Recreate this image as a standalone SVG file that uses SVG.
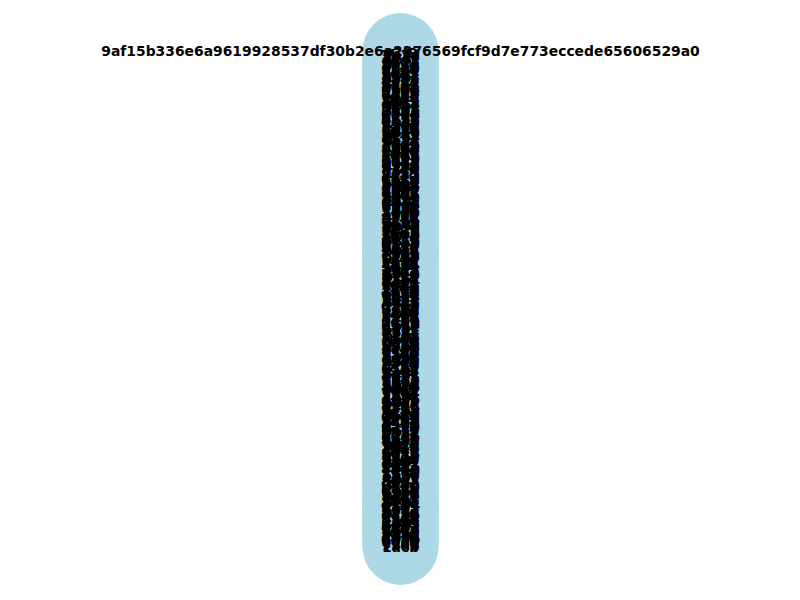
<svg xmlns="http://www.w3.org/2000/svg" width="800" height="600" viewBox="0 0 800 600">
<style>
.edge{stroke:#000000;stroke-width:1;fill:none}
.n{fill:#add8e6;stroke:none;cx:400.5px;r:38px}
#labels text{font-family:"DejaVu Sans","Liberation Sans",sans-serif;font-weight:bold;font-size:13.9px;fill:#000000;text-anchor:middle;dominant-baseline:central}
</style>
<rect x="0" y="0" width="800" height="600" fill="#ffffff"/>
<g id="connectors">
<path class="edge" d="M400.5,51 L400.5,547"/>
</g>
<g id="nodes">
<g id="n0"><circle class="n" cx="400.5" r="38" cy="51"/></g>
<g id="n1"><circle class="n" cx="400.5" r="38" cy="53"/></g>
<g id="n2"><circle class="n" cx="400.5" r="38" cy="55"/></g>
<g id="n3"><circle class="n" cx="400.5" r="38" cy="57"/></g>
<g id="n4"><circle class="n" cx="400.5" r="38" cy="59"/></g>
<g id="n5"><circle class="n" cx="400.5" r="38" cy="61"/></g>
<g id="n6"><circle class="n" cx="400.5" r="38" cy="63"/></g>
<g id="n7"><circle class="n" cx="400.5" r="38" cy="65"/></g>
<g id="n8"><circle class="n" cx="400.5" r="38" cy="67"/></g>
<g id="n9"><circle class="n" cx="400.5" r="38" cy="69"/></g>
<g id="n10"><circle class="n" cx="400.5" r="38" cy="71"/></g>
<g id="n11"><circle class="n" cx="400.5" r="38" cy="73"/></g>
<g id="n12"><circle class="n" cx="400.5" r="38" cy="75"/></g>
<g id="n13"><circle class="n" cx="400.5" r="38" cy="77"/></g>
<g id="n14"><circle class="n" cx="400.5" r="38" cy="79"/></g>
<g id="n15"><circle class="n" cx="400.5" r="38" cy="81"/></g>
<g id="n16"><circle class="n" cx="400.5" r="38" cy="83"/></g>
<g id="n17"><circle class="n" cx="400.5" r="38" cy="85"/></g>
<g id="n18"><circle class="n" cx="400.5" r="38" cy="87"/></g>
<g id="n19"><circle class="n" cx="400.5" r="38" cy="89"/></g>
<g id="n20"><circle class="n" cx="400.5" r="38" cy="91"/></g>
<g id="n21"><circle class="n" cx="400.5" r="38" cy="93"/></g>
<g id="n22"><circle class="n" cx="400.5" r="38" cy="95"/></g>
<g id="n23"><circle class="n" cx="400.5" r="38" cy="97"/></g>
<g id="n24"><circle class="n" cx="400.5" r="38" cy="99"/></g>
<g id="n25"><circle class="n" cx="400.5" r="38" cy="101"/></g>
<g id="n26"><circle class="n" cx="400.5" r="38" cy="103"/></g>
<g id="n27"><circle class="n" cx="400.5" r="38" cy="105"/></g>
<g id="n28"><circle class="n" cx="400.5" r="38" cy="107"/></g>
<g id="n29"><circle class="n" cx="400.5" r="38" cy="109"/></g>
<g id="n30"><circle class="n" cx="400.5" r="38" cy="111"/></g>
<g id="n31"><circle class="n" cx="400.5" r="38" cy="113"/></g>
<g id="n32"><circle class="n" cx="400.5" r="38" cy="115"/></g>
<g id="n33"><circle class="n" cx="400.5" r="38" cy="117"/></g>
<g id="n34"><circle class="n" cx="400.5" r="38" cy="119"/></g>
<g id="n35"><circle class="n" cx="400.5" r="38" cy="121"/></g>
<g id="n36"><circle class="n" cx="400.5" r="38" cy="123"/></g>
<g id="n37"><circle class="n" cx="400.5" r="38" cy="125"/></g>
<g id="n38"><circle class="n" cx="400.5" r="38" cy="127"/></g>
<g id="n39"><circle class="n" cx="400.5" r="38" cy="129"/></g>
<g id="n40"><circle class="n" cx="400.5" r="38" cy="131"/></g>
<g id="n41"><circle class="n" cx="400.5" r="38" cy="133"/></g>
<g id="n42"><circle class="n" cx="400.5" r="38" cy="135"/></g>
<g id="n43"><circle class="n" cx="400.5" r="38" cy="137"/></g>
<g id="n44"><circle class="n" cx="400.5" r="38" cy="139"/></g>
<g id="n45"><circle class="n" cx="400.5" r="38" cy="141"/></g>
<g id="n46"><circle class="n" cx="400.5" r="38" cy="143"/></g>
<g id="n47"><circle class="n" cx="400.5" r="38" cy="145"/></g>
<g id="n48"><circle class="n" cx="400.5" r="38" cy="147"/></g>
<g id="n49"><circle class="n" cx="400.5" r="38" cy="149"/></g>
<g id="n50"><circle class="n" cx="400.5" r="38" cy="151"/></g>
<g id="n51"><circle class="n" cx="400.5" r="38" cy="153"/></g>
<g id="n52"><circle class="n" cx="400.5" r="38" cy="155"/></g>
<g id="n53"><circle class="n" cx="400.5" r="38" cy="157"/></g>
<g id="n54"><circle class="n" cx="400.5" r="38" cy="159"/></g>
<g id="n55"><circle class="n" cx="400.5" r="38" cy="161"/></g>
<g id="n56"><circle class="n" cx="400.5" r="38" cy="163"/></g>
<g id="n57"><circle class="n" cx="400.5" r="38" cy="165"/></g>
<g id="n58"><circle class="n" cx="400.5" r="38" cy="167"/></g>
<g id="n59"><circle class="n" cx="400.5" r="38" cy="169"/></g>
<g id="n60"><circle class="n" cx="400.5" r="38" cy="171"/></g>
<g id="n61"><circle class="n" cx="400.5" r="38" cy="173"/></g>
<g id="n62"><circle class="n" cx="400.5" r="38" cy="175"/></g>
<g id="n63"><circle class="n" cx="400.5" r="38" cy="177"/></g>
<g id="n64"><circle class="n" cx="400.5" r="38" cy="179"/></g>
<g id="n65"><circle class="n" cx="400.5" r="38" cy="181"/></g>
<g id="n66"><circle class="n" cx="400.5" r="38" cy="183"/></g>
<g id="n67"><circle class="n" cx="400.5" r="38" cy="185"/></g>
<g id="n68"><circle class="n" cx="400.5" r="38" cy="187"/></g>
<g id="n69"><circle class="n" cx="400.5" r="38" cy="189"/></g>
<g id="n70"><circle class="n" cx="400.5" r="38" cy="191"/></g>
<g id="n71"><circle class="n" cx="400.5" r="38" cy="193"/></g>
<g id="n72"><circle class="n" cx="400.5" r="38" cy="195"/></g>
<g id="n73"><circle class="n" cx="400.5" r="38" cy="197"/></g>
<g id="n74"><circle class="n" cx="400.5" r="38" cy="199"/></g>
<g id="n75"><circle class="n" cx="400.5" r="38" cy="201"/></g>
<g id="n76"><circle class="n" cx="400.5" r="38" cy="203"/></g>
<g id="n77"><circle class="n" cx="400.5" r="38" cy="205"/></g>
<g id="n78"><circle class="n" cx="400.5" r="38" cy="207"/></g>
<g id="n79"><circle class="n" cx="400.5" r="38" cy="209"/></g>
<g id="n80"><circle class="n" cx="400.5" r="38" cy="211"/></g>
<g id="n81"><circle class="n" cx="400.5" r="38" cy="213"/></g>
<g id="n82"><circle class="n" cx="400.5" r="38" cy="215"/></g>
<g id="n83"><circle class="n" cx="400.5" r="38" cy="217"/></g>
<g id="n84"><circle class="n" cx="400.5" r="38" cy="219"/></g>
<g id="n85"><circle class="n" cx="400.5" r="38" cy="221"/></g>
<g id="n86"><circle class="n" cx="400.5" r="38" cy="223"/></g>
<g id="n87"><circle class="n" cx="400.5" r="38" cy="225"/></g>
<g id="n88"><circle class="n" cx="400.5" r="38" cy="227"/></g>
<g id="n89"><circle class="n" cx="400.5" r="38" cy="229"/></g>
<g id="n90"><circle class="n" cx="400.5" r="38" cy="231"/></g>
<g id="n91"><circle class="n" cx="400.5" r="38" cy="233"/></g>
<g id="n92"><circle class="n" cx="400.5" r="38" cy="235"/></g>
<g id="n93"><circle class="n" cx="400.5" r="38" cy="237"/></g>
<g id="n94"><circle class="n" cx="400.5" r="38" cy="239"/></g>
<g id="n95"><circle class="n" cx="400.5" r="38" cy="241"/></g>
<g id="n96"><circle class="n" cx="400.5" r="38" cy="243"/></g>
<g id="n97"><circle class="n" cx="400.5" r="38" cy="245"/></g>
<g id="n98"><circle class="n" cx="400.5" r="38" cy="247"/></g>
<g id="n99"><circle class="n" cx="400.5" r="38" cy="249"/></g>
<g id="n100"><circle class="n" cx="400.5" r="38" cy="251"/></g>
<g id="n101"><circle class="n" cx="400.5" r="38" cy="253"/></g>
<g id="n102"><circle class="n" cx="400.5" r="38" cy="255"/></g>
<g id="n103"><circle class="n" cx="400.5" r="38" cy="257"/></g>
<g id="n104"><circle class="n" cx="400.5" r="38" cy="259"/></g>
<g id="n105"><circle class="n" cx="400.5" r="38" cy="261"/></g>
<g id="n106"><circle class="n" cx="400.5" r="38" cy="263"/></g>
<g id="n107"><circle class="n" cx="400.5" r="38" cy="265"/></g>
<g id="n108"><circle class="n" cx="400.5" r="38" cy="267"/></g>
<g id="n109"><circle class="n" cx="400.5" r="38" cy="269"/></g>
<g id="n110"><circle class="n" cx="400.5" r="38" cy="271"/></g>
<g id="n111"><circle class="n" cx="400.5" r="38" cy="273"/></g>
<g id="n112"><circle class="n" cx="400.5" r="38" cy="275"/></g>
<g id="n113"><circle class="n" cx="400.5" r="38" cy="277"/></g>
<g id="n114"><circle class="n" cx="400.5" r="38" cy="279"/></g>
<g id="n115"><circle class="n" cx="400.5" r="38" cy="281"/></g>
<g id="n116"><circle class="n" cx="400.5" r="38" cy="283"/></g>
<g id="n117"><circle class="n" cx="400.5" r="38" cy="285"/></g>
<g id="n118"><circle class="n" cx="400.5" r="38" cy="287"/></g>
<g id="n119"><circle class="n" cx="400.5" r="38" cy="289"/></g>
<g id="n120"><circle class="n" cx="400.5" r="38" cy="291"/></g>
<g id="n121"><circle class="n" cx="400.5" r="38" cy="293"/></g>
<g id="n122"><circle class="n" cx="400.5" r="38" cy="295"/></g>
<g id="n123"><circle class="n" cx="400.5" r="38" cy="297"/></g>
<g id="n124"><circle class="n" cx="400.5" r="38" cy="299"/></g>
<g id="n125"><circle class="n" cx="400.5" r="38" cy="301"/></g>
<g id="n126"><circle class="n" cx="400.5" r="38" cy="303"/></g>
<g id="n127"><circle class="n" cx="400.5" r="38" cy="305"/></g>
<g id="n128"><circle class="n" cx="400.5" r="38" cy="307"/></g>
<g id="n129"><circle class="n" cx="400.5" r="38" cy="309"/></g>
<g id="n130"><circle class="n" cx="400.5" r="38" cy="311"/></g>
<g id="n131"><circle class="n" cx="400.5" r="38" cy="313"/></g>
<g id="n132"><circle class="n" cx="400.5" r="38" cy="315"/></g>
<g id="n133"><circle class="n" cx="400.5" r="38" cy="317"/></g>
<g id="n134"><circle class="n" cx="400.5" r="38" cy="319"/></g>
<g id="n135"><circle class="n" cx="400.5" r="38" cy="321"/></g>
<g id="n136"><circle class="n" cx="400.5" r="38" cy="323"/></g>
<g id="n137"><circle class="n" cx="400.5" r="38" cy="325"/></g>
<g id="n138"><circle class="n" cx="400.5" r="38" cy="327"/></g>
<g id="n139"><circle class="n" cx="400.5" r="38" cy="329"/></g>
<g id="n140"><circle class="n" cx="400.5" r="38" cy="331"/></g>
<g id="n141"><circle class="n" cx="400.5" r="38" cy="333"/></g>
<g id="n142"><circle class="n" cx="400.5" r="38" cy="335"/></g>
<g id="n143"><circle class="n" cx="400.5" r="38" cy="337"/></g>
<g id="n144"><circle class="n" cx="400.5" r="38" cy="339"/></g>
<g id="n145"><circle class="n" cx="400.5" r="38" cy="341"/></g>
<g id="n146"><circle class="n" cx="400.5" r="38" cy="343"/></g>
<g id="n147"><circle class="n" cx="400.5" r="38" cy="345"/></g>
<g id="n148"><circle class="n" cx="400.5" r="38" cy="347"/></g>
<g id="n149"><circle class="n" cx="400.5" r="38" cy="349"/></g>
<g id="n150"><circle class="n" cx="400.5" r="38" cy="351"/></g>
<g id="n151"><circle class="n" cx="400.5" r="38" cy="353"/></g>
<g id="n152"><circle class="n" cx="400.5" r="38" cy="355"/></g>
<g id="n153"><circle class="n" cx="400.5" r="38" cy="357"/></g>
<g id="n154"><circle class="n" cx="400.5" r="38" cy="359"/></g>
<g id="n155"><circle class="n" cx="400.5" r="38" cy="361"/></g>
<g id="n156"><circle class="n" cx="400.5" r="38" cy="363"/></g>
<g id="n157"><circle class="n" cx="400.5" r="38" cy="365"/></g>
<g id="n158"><circle class="n" cx="400.5" r="38" cy="367"/></g>
<g id="n159"><circle class="n" cx="400.5" r="38" cy="369"/></g>
<g id="n160"><circle class="n" cx="400.5" r="38" cy="371"/></g>
<g id="n161"><circle class="n" cx="400.5" r="38" cy="373"/></g>
<g id="n162"><circle class="n" cx="400.5" r="38" cy="375"/></g>
<g id="n163"><circle class="n" cx="400.5" r="38" cy="377"/></g>
<g id="n164"><circle class="n" cx="400.5" r="38" cy="379"/></g>
<g id="n165"><circle class="n" cx="400.5" r="38" cy="381"/></g>
<g id="n166"><circle class="n" cx="400.5" r="38" cy="383"/></g>
<g id="n167"><circle class="n" cx="400.5" r="38" cy="385"/></g>
<g id="n168"><circle class="n" cx="400.5" r="38" cy="387"/></g>
<g id="n169"><circle class="n" cx="400.5" r="38" cy="389"/></g>
<g id="n170"><circle class="n" cx="400.5" r="38" cy="391"/></g>
<g id="n171"><circle class="n" cx="400.5" r="38" cy="393"/></g>
<g id="n172"><circle class="n" cx="400.5" r="38" cy="395"/></g>
<g id="n173"><circle class="n" cx="400.5" r="38" cy="397"/></g>
<g id="n174"><circle class="n" cx="400.5" r="38" cy="399"/></g>
<g id="n175"><circle class="n" cx="400.5" r="38" cy="401"/></g>
<g id="n176"><circle class="n" cx="400.5" r="38" cy="403"/></g>
<g id="n177"><circle class="n" cx="400.5" r="38" cy="405"/></g>
<g id="n178"><circle class="n" cx="400.5" r="38" cy="407"/></g>
<g id="n179"><circle class="n" cx="400.5" r="38" cy="409"/></g>
<g id="n180"><circle class="n" cx="400.5" r="38" cy="411"/></g>
<g id="n181"><circle class="n" cx="400.5" r="38" cy="413"/></g>
<g id="n182"><circle class="n" cx="400.5" r="38" cy="415"/></g>
<g id="n183"><circle class="n" cx="400.5" r="38" cy="417"/></g>
<g id="n184"><circle class="n" cx="400.5" r="38" cy="419"/></g>
<g id="n185"><circle class="n" cx="400.5" r="38" cy="421"/></g>
<g id="n186"><circle class="n" cx="400.5" r="38" cy="423"/></g>
<g id="n187"><circle class="n" cx="400.5" r="38" cy="425"/></g>
<g id="n188"><circle class="n" cx="400.5" r="38" cy="427"/></g>
<g id="n189"><circle class="n" cx="400.5" r="38" cy="429"/></g>
<g id="n190"><circle class="n" cx="400.5" r="38" cy="431"/></g>
<g id="n191"><circle class="n" cx="400.5" r="38" cy="433"/></g>
<g id="n192"><circle class="n" cx="400.5" r="38" cy="435"/></g>
<g id="n193"><circle class="n" cx="400.5" r="38" cy="437"/></g>
<g id="n194"><circle class="n" cx="400.5" r="38" cy="439"/></g>
<g id="n195"><circle class="n" cx="400.5" r="38" cy="441"/></g>
<g id="n196"><circle class="n" cx="400.5" r="38" cy="443"/></g>
<g id="n197"><circle class="n" cx="400.5" r="38" cy="445"/></g>
<g id="n198"><circle class="n" cx="400.5" r="38" cy="447"/></g>
<g id="n199"><circle class="n" cx="400.5" r="38" cy="449"/></g>
<g id="n200"><circle class="n" cx="400.5" r="38" cy="451"/></g>
<g id="n201"><circle class="n" cx="400.5" r="38" cy="453"/></g>
<g id="n202"><circle class="n" cx="400.5" r="38" cy="455"/></g>
<g id="n203"><circle class="n" cx="400.5" r="38" cy="457"/></g>
<g id="n204"><circle class="n" cx="400.5" r="38" cy="459"/></g>
<g id="n205"><circle class="n" cx="400.5" r="38" cy="461"/></g>
<g id="n206"><circle class="n" cx="400.5" r="38" cy="463"/></g>
<g id="n207"><circle class="n" cx="400.5" r="38" cy="465"/></g>
<g id="n208"><circle class="n" cx="400.5" r="38" cy="467"/></g>
<g id="n209"><circle class="n" cx="400.5" r="38" cy="469"/></g>
<g id="n210"><circle class="n" cx="400.5" r="38" cy="471"/></g>
<g id="n211"><circle class="n" cx="400.5" r="38" cy="473"/></g>
<g id="n212"><circle class="n" cx="400.5" r="38" cy="475"/></g>
<g id="n213"><circle class="n" cx="400.5" r="38" cy="477"/></g>
<g id="n214"><circle class="n" cx="400.5" r="38" cy="479"/></g>
<g id="n215"><circle class="n" cx="400.5" r="38" cy="481"/></g>
<g id="n216"><circle class="n" cx="400.5" r="38" cy="483"/></g>
<g id="n217"><circle class="n" cx="400.5" r="38" cy="485"/></g>
<g id="n218"><circle class="n" cx="400.5" r="38" cy="487"/></g>
<g id="n219"><circle class="n" cx="400.5" r="38" cy="489"/></g>
<g id="n220"><circle class="n" cx="400.5" r="38" cy="491"/></g>
<g id="n221"><circle class="n" cx="400.5" r="38" cy="493"/></g>
<g id="n222"><circle class="n" cx="400.5" r="38" cy="495"/></g>
<g id="n223"><circle class="n" cx="400.5" r="38" cy="497"/></g>
<g id="n224"><circle class="n" cx="400.5" r="38" cy="499"/></g>
<g id="n225"><circle class="n" cx="400.5" r="38" cy="501"/></g>
<g id="n226"><circle class="n" cx="400.5" r="38" cy="503"/></g>
<g id="n227"><circle class="n" cx="400.5" r="38" cy="505"/></g>
<g id="n228"><circle class="n" cx="400.5" r="38" cy="507"/></g>
<g id="n229"><circle class="n" cx="400.5" r="38" cy="509"/></g>
<g id="n230"><circle class="n" cx="400.5" r="38" cy="511"/></g>
<g id="n231"><circle class="n" cx="400.5" r="38" cy="513"/></g>
<g id="n232"><circle class="n" cx="400.5" r="38" cy="515"/></g>
<g id="n233"><circle class="n" cx="400.5" r="38" cy="517"/></g>
<g id="n234"><circle class="n" cx="400.5" r="38" cy="519"/></g>
<g id="n235"><circle class="n" cx="400.5" r="38" cy="521"/></g>
<g id="n236"><circle class="n" cx="400.5" r="38" cy="523"/></g>
<g id="n237"><circle class="n" cx="400.5" r="38" cy="525"/></g>
<g id="n238"><circle class="n" cx="400.5" r="38" cy="527"/></g>
<g id="n239"><circle class="n" cx="400.5" r="38" cy="529"/></g>
<g id="n240"><circle class="n" cx="400.5" r="38" cy="531"/></g>
<g id="n241"><circle class="n" cx="400.5" r="38" cy="533"/></g>
<g id="n242"><circle class="n" cx="400.5" r="38" cy="535"/></g>
<g id="n243"><circle class="n" cx="400.5" r="38" cy="537"/></g>
<g id="n244"><circle class="n" cx="400.5" r="38" cy="539"/></g>
<g id="n245"><circle class="n" cx="400.5" r="38" cy="541"/></g>
<g id="n246"><circle class="n" cx="400.5" r="38" cy="543"/></g>
<g id="n247"><circle class="n" cx="400.5" r="38" cy="545"/></g>
<g id="n248"><circle class="n" cx="400.5" r="38" cy="547"/></g>
</g>
<g id="labels">
<text id="t0" x="400.5" y="51">9af15b336e6a9619928537df30b2e6a2376569fcf9d7e773eccede65606529a0</text>
<text id="t1" x="400.5" y="53">e3f9</text>
<text id="t2" x="400.5" y="55">7b2d</text>
<text id="t3" x="400.5" y="57">a01c</text>
<text id="t4" x="400.5" y="59">5e8f</text>
<text id="t5" x="400.5" y="61">c4d2</text>
<text id="t6" x="400.5" y="63">9b7a</text>
<text id="t7" x="400.5" y="65">0f3e</text>
<text id="t8" x="400.5" y="67">d8a6</text>
<text id="t9" x="400.5" y="69">2c5b</text>
<text id="t10" x="400.5" y="71">86e1</text>
<text id="t11" x="400.5" y="73">f4a9</text>
<text id="t12" x="400.5" y="75">3d07</text>
<text id="t13" x="400.5" y="77">b19c</text>
<text id="t14" x="400.5" y="79">6a4e</text>
<text id="t15" x="400.5" y="81">e72f</text>
<text id="t16" x="400.5" y="83">1c8d</text>
<text id="t17" x="400.5" y="85">95b3</text>
<text id="t18" x="400.5" y="87">d40a</text>
<text id="t19" x="400.5" y="89">7f6c</text>
<text id="t20" x="400.5" y="91">0b9e</text>
<text id="t21" x="400.5" y="93">a3d5</text>
<text id="t22" x="400.5" y="95">58c2</text>
<text id="t23" x="400.5" y="97">c61b</text>
<text id="t24" x="400.5" y="99">2e94</text>
<text id="t25" x="400.5" y="101">fb07</text>
<text id="t26" x="400.5" y="103">4d3a</text>
<text id="t27" x="400.5" y="105">8e5f</text>
<text id="t28" x="400.5" y="107">17ac</text>
<text id="t29" x="400.5" y="109">b6d8</text>
<text id="t30" x="400.5" y="111">3f21</text>
<text id="t31" x="400.5" y="113">d9e6</text>
<text id="t32" x="400.5" y="115">60b4</text>
<text id="t33" x="400.5" y="117">a7c9</text>
<text id="t34" x="400.5" y="119">e25d</text>
<text id="t35" x="400.5" y="121">4b8a</text>
<text id="t36" x="400.5" y="123">c03f</text>
<text id="t37" x="400.5" y="125">91e7</text>
<text id="t38" x="400.5" y="127">5a6d</text>
<text id="t39" x="400.5" y="129">f81b</text>
<text id="t40" x="400.5" y="131">2d4c</text>
<text id="t41" x="400.5" y="133">b3a0</text>
<text id="t42" x="400.5" y="135">7e19</text>
<text id="t43" x="400.5" y="137">0c6f</text>
<text id="t44" x="400.5" y="139">d57e</text>
<text id="t45" x="400.5" y="141">6f2a</text>
<text id="t46" x="400.5" y="143">a94c</text>
<text id="t47" x="400.5" y="145">1e8b</text>
<text id="t48" x="400.5" y="147">c7d3</text>
<text id="t49" x="400.5" y="149">8b05</text>
<text id="t50" x="400.5" y="151">e4f6</text>
<text id="t51" x="400.5" y="153">3a9d</text>
<text id="t52" x="400.5" y="155">f0c1</text>
<text id="t53" x="400.5" y="157">56be</text>
<text id="t54" x="400.5" y="159">b82e</text>
<text id="t55" x="400.5" y="161">0d7a</text>
<text id="t56" x="400.5" y="163">9c43</text>
<text id="t57" x="400.5" y="165">e1b5</text>
<text id="t58" x="400.5" y="167">47f8</text>
<text id="t59" x="400.5" y="169">a2e0</text>
<text id="t60" x="400.5" y="171">d6c4</text>
<text id="t61" x="400.5" y="173">1f9a</text>
<text id="t62" x="400.5" y="175">8a37</text>
<text id="t63" x="400.5" y="177">c5e2</text>
<text id="t64" x="400.5" y="179">6b1d</text>
<text id="t65" x="400.5" y="181">f3a8</text>
<text id="t66" x="400.5" y="183">29c6</text>
<text id="t67" x="400.5" y="185">be04</text>
<text id="t68" x="400.5" y="187">7d5f</text>
<text id="t69" x="400.5" y="189">04e9</text>
<text id="t70" x="400.5" y="191">a8b2</text>
<text id="t71" x="400.5" y="193">e63c</text>
<text id="t72" x="400.5" y="195">5c0b</text>
<text id="t73" x="400.5" y="197">9d7e</text>
<text id="t74" x="400.5" y="199">32af</text>
<text id="t75" x="400.5" y="201">c9f1</text>
<text id="t76" x="400.5" y="203">0e4d</text>
<text id="t77" x="400.5" y="205">b5a6</text>
<text id="t78" x="400.5" y="207">6d8c</text>
<text id="t79" x="400.5" y="209">f72b</text>
<text id="t80" x="400.5" y="211">13e5</text>
<text id="t81" x="400.5" y="213">a6d0</text>
<text id="t82" x="400.5" y="215">e9c7</text>
<text id="t83" x="400.5" y="217">4f3b</text>
<text id="t84" x="400.5" y="219">8c6a</text>
<text id="t85" x="400.5" y="221">d21e</text>
<text id="t86" x="400.5" y="223">75b9</text>
<text id="t87" x="400.5" y="225">0a8f</text>
<text id="t88" x="400.5" y="227">c3d6</text>
<text id="t89" x="400.5" y="229">9e2c</text>
<text id="t90" x="400.5" y="231">5b7d</text>
<text id="t91" x="400.5" y="233">f6e3</text>
<text id="t92" x="400.5" y="235">2a0b</text>
<text id="t93" x="400.5" y="237">b4c8</text>
<text id="t94" x="400.5" y="239">e07d</text>
<text id="t95" x="400.5" y="241">68f5</text>
<text id="t96" x="400.5" y="243">d3b9</text>
<text id="t97" x="400.5" y="245">a5e6</text>
<text id="t98" x="400.5" y="247">0c2d</text>
<text id="t99" x="400.5" y="249">4e71</text>
<text id="t100" x="400.5" y="251">b0f8</text>
<text id="t101" x="400.5" y="253">7a3c</text>
<text id="t102" x="400.5" y="255">e5d9</text>
<text id="t103" x="400.5" y="257">12b6</text>
<text id="t104" x="400.5" y="259">9f4e</text>
<text id="t105" x="400.5" y="261">c82a</text>
<text id="t106" x="400.5" y="263">36d1</text>
<text id="t107" x="400.5" y="265">fa7b</text>
<text id="t108" x="400.5" y="267">5d0e</text>
<text id="t109" x="400.5" y="269">a1c3</text>
<text id="t110" x="400.5" y="271">e8f2</text>
<text id="t111" x="400.5" y="273">4c9d</text>
<text id="t112" x="400.5" y="275">b7e0</text>
<text id="t113" x="400.5" y="277">0f5a</text>
<text id="t114" x="400.5" y="279">d36c</text>
<text id="t115" x="400.5" y="281">82b4</text>
<text id="t116" x="400.5" y="283">6e1f</text>
<text id="t117" x="400.5" y="285">c0a7</text>
<text id="t118" x="400.5" y="287">f9d5</text>
<text id="t119" x="400.5" y="289">27e8</text>
<text id="t120" x="400.5" y="291">ab4d</text>
<text id="t121" x="400.5" y="293">5f3b</text>
<text id="t122" x="400.5" y="295">e06a</text>
<text id="t123" x="400.5" y="297">94c2</text>
<text id="t124" x="400.5" y="299">1d8e</text>
<text id="t125" x="400.5" y="301">bc57</text>
<text id="t126" x="400.5" y="303">63fa</text>
<text id="t127" x="400.5" y="305">d1e9</text>
<text id="t128" x="400.5" y="307">08b3</text>
<text id="t129" x="400.5" y="309">7c6d</text>
<text id="t130" x="400.5" y="311">ea25</text>
<text id="t131" x="400.5" y="313">3b9f</text>
<text id="t132" x="400.5" y="315">c4e0</text>
<text id="t133" x="400.5" y="317">59a8</text>
<text id="t134" x="400.5" y="319">f27c</text>
<text id="t135" x="400.5" y="321">0e6b</text>
<text id="t136" x="400.5" y="323">a8d4</text>
<text id="t137" x="400.5" y="325">16f3</text>
<text id="t138" x="400.5" y="327">d95e</text>
<text id="t139" x="400.5" y="329">4a0c</text>
<text id="t140" x="400.5" y="331">b2c7</text>
<text id="t141" x="400.5" y="333">e7a1</text>
<text id="t142" x="400.5" y="335">6c5f</text>
<text id="t143" x="400.5" y="337">31d8</text>
<text id="t144" x="400.5" y="339">fe4b</text>
<text id="t145" x="400.5" y="341">8d2a</text>
<text id="t146" x="400.5" y="343">c69e</text>
<text id="t147" x="400.5" y="345">07f4</text>
<text id="t148" x="400.5" y="347">a3b6</text>
<text id="t149" x="400.5" y="349">5e0d</text>
<text id="t150" x="400.5" y="351">d7c1</text>
<text id="t151" x="400.5" y="353">2f8b</text>
<text id="t152" x="400.5" y="355">9a6e</text>
<text id="t153" x="400.5" y="357">e14c</text>
<text id="t154" x="400.5" y="359">4d9a</text>
<text id="t155" x="400.5" y="361">b8f0</text>
<text id="t156" x="400.5" y="363">73e2</text>
<text id="t157" x="400.5" y="365">0c5d</text>
<text id="t158" x="400.5" y="367">fa39</text>
<text id="t159" x="400.5" y="369">61b7</text>
<text id="t160" x="400.5" y="371">c2d8</text>
<text id="t161" x="400.5" y="373">8e4f</text>
<text id="t162" x="400.5" y="375">3a7c</text>
<text id="t163" x="400.5" y="377">d0e5</text>
<text id="t164" x="400.5" y="379">95a1</text>
<text id="t165" x="400.5" y="381">1b6e</text>
<text id="t166" x="400.5" y="383">e8c3</text>
<text id="t167" x="400.5" y="385">5f2d</text>
<text id="t168" x="400.5" y="387">a47b</text>
<text id="t169" x="400.5" y="389">0d9f</text>
<text id="t170" x="400.5" y="391">c6a2</text>
<text id="t171" x="400.5" y="393">79e4</text>
<text id="t172" x="400.5" y="395">f13d</text>
<text id="t173" x="400.5" y="397">2b8c</text>
<text id="t174" x="400.5" y="399">de56</text>
<text id="t175" x="400.5" y="401">48a0</text>
<text id="t176" x="400.5" y="403">b9f7</text>
<text id="t177" x="400.5" y="405">6c1e</text>
<text id="t178" x="400.5" y="407">e3d4</text>
<text id="t179" x="400.5" y="409">17b9</text>
<text id="t180" x="400.5" y="411">ac6f</text>
<text id="t181" x="400.5" y="413">52e3</text>
<text id="t182" x="400.5" y="415">f8a6</text>
<text id="t183" x="400.5" y="417">0b4d</text>
<text id="t184" x="400.5" y="419">c7e1</text>
<text id="t185" x="400.5" y="421">8f3a</text>
<text id="t186" x="400.5" y="423">34d9</text>
<text id="t187" x="400.5" y="425">e96b</text>
<text id="t188" x="400.5" y="427">5a2e</text>
<text id="t189" x="400.5" y="429">d1c8</text>
<text id="t190" x="400.5" y="431">06f5</text>
<text id="t191" x="400.5" y="433">bb37</text>
<text id="t192" x="400.5" y="435">72a4</text>
<text id="t193" x="400.5" y="437">e0d6</text>
<text id="t194" x="400.5" y="439">9c1b</text>
<text id="t195" x="400.5" y="441">4e8d</text>
<text id="t196" x="400.5" y="443">a5f2</text>
<text id="t197" x="400.5" y="445">1d7c</text>
<text id="t198" x="400.5" y="447">f6b9</text>
<text id="t199" x="400.5" y="449">38e0</text>
<text id="t200" x="400.5" y="451">cd4a</text>
<text id="t201" x="400.5" y="453">67f1</text>
<text id="t202" x="400.5" y="455">b03e</text>
<text id="t203" x="400.5" y="457">e5a9</text>
<text id="t204" x="400.5" y="459">2c6d</text>
<text id="t205" x="400.5" y="461">9b8f</text>
<text id="t206" x="400.5" y="463">d4e2</text>
<text id="t207" x="400.5" y="465">50c7</text>
<text id="t208" x="400.5" y="467">f9a3</text>
<text id="t209" x="400.5" y="469">86d0</text>
<text id="t210" x="400.5" y="471">1e5b</text>
<text id="t211" x="400.5" y="473">c3f8</text>
<text id="t212" x="400.5" y="475">7a9e</text>
<text id="t213" x="400.5" y="477">e26c</text>
<text id="t214" x="400.5" y="479">4b1f</text>
<text id="t215" x="400.5" y="481">a0d7</text>
<text id="t216" x="400.5" y="483">d85a</text>
<text id="t217" x="400.5" y="485">3f4c</text>
<text id="t218" x="400.5" y="487">b6e9</text>
<text id="t219" x="400.5" y="489">0a2d</text>
<text id="t220" x="400.5" y="491">e7b1</text>
<text id="t221" x="400.5" y="493">59f6</text>
<text id="t222" x="400.5" y="495">c1a8</text>
<text id="t223" x="400.5" y="497">8d3e</text>
<text id="t224" x="400.5" y="499">26c5</text>
<text id="t225" x="400.5" y="501">fb9a</text>
<text id="t226" x="400.5" y="503">6e0f</text>
<text id="t227" x="400.5" y="505">d2b4</text>
<text id="t228" x="400.5" y="507">93d7</text>
<text id="t229" x="400.5" y="509">45ea</text>
<text id="t230" x="400.5" y="511">a9c1</text>
<text id="t231" x="400.5" y="513">0f7e</text>
<text id="t232" x="400.5" y="515">e48b</text>
<text id="t233" x="400.5" y="517">7c2a</text>
<text id="t234" x="400.5" y="519">b5d3</text>
<text id="t235" x="400.5" y="521">1a6f</text>
<text id="t236" x="400.5" y="523">cf08</text>
<text id="t237" x="400.5" y="525">64e5</text>
<text id="t238" x="400.5" y="527">d9b2</text>
<text id="t239" x="400.5" y="529">2e7d</text>
<text id="t240" x="400.5" y="531">8b4c</text>
<text id="t241" x="400.5" y="533">f05e</text>
<text id="t242" x="400.5" y="535">53a9</text>
<text id="t243" x="400.5" y="537">c8f6</text>
<text id="t244" x="400.5" y="539">0d3b</text>
<text id="t245" x="400.5" y="541">a6e8</text>
<text id="t246" x="400.5" y="543">e2c0</text>
<text id="t247" x="400.5" y="545">79d5</text>
<text id="t248" x="400.5" y="547">1acb</text>
</g>
</svg>
